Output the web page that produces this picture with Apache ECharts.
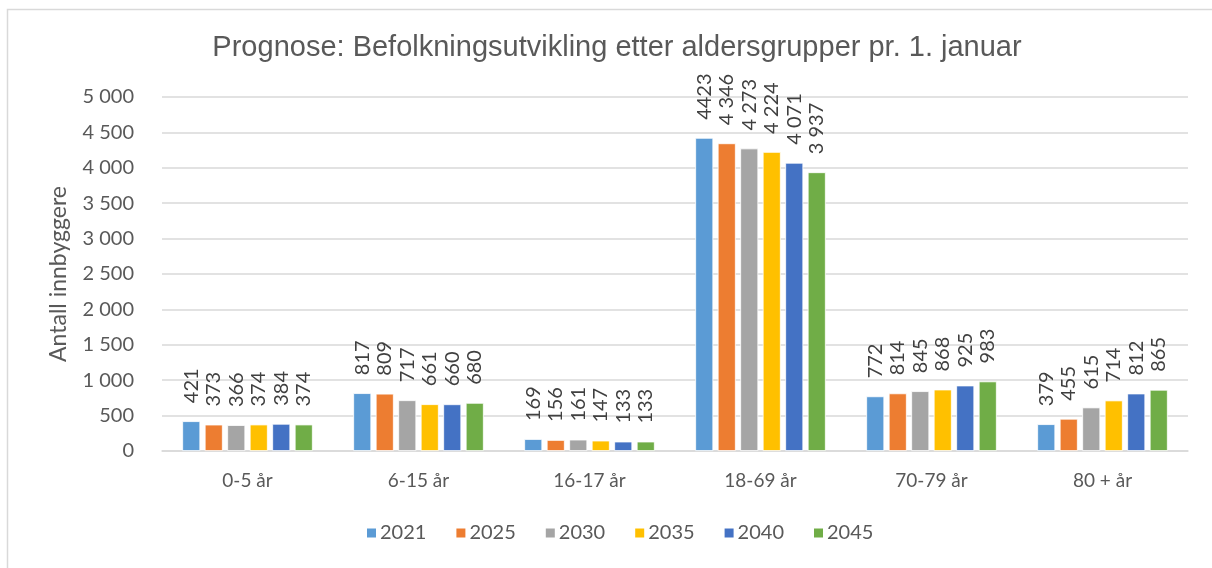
<!DOCTYPE html>
<html>
<head>
<meta charset="utf-8">
<script src="https://cdn.jsdelivr.net/npm/echarts@6/dist/echarts.min.js"></script>
<style>
html,body{margin:0;padding:0;background:#fff;}
#c{width:1212px;height:568px;}
</style>
</head>
<body>
<div id="c"></div>
<script>
const categories = ['0-5 år', '6-15 år', '16-17 år', '18-69 år', '70-79 år', '80 + år'];
const seriesNames = ['2021', '2025', '2030', '2035', '2040', '2045'];
const v2021 = [421, 817, 169, 4423, 772, 379];
const v2025 = [373, 809, 156, 4346, 814, 455];
const v2030 = [366, 717, 161, 4273, 845, 615];
const v2035 = [374, 661, 147, 4224, 868, 714];
const v2040 = [384, 660, 133, 4071, 925, 812];
const v2045 = [374, 680, 133, 3937, 983, 865];
const colors = ['#5B9BD5', '#ED7D31', '#A5A5A5', '#FFC000', '#4472C4', '#70AD47'];
const allValues = [v2021, v2025, v2030, v2035, v2040, v2045];

function fmt(n) {
  return String(n).replace(/\B(?=(\d{3})+(?!\d))/g, ' ');
}
const fontFam = 'Lato, "Open Sans", sans-serif';

const chart = echarts.init(document.getElementById('c'), null, {renderer: 'canvas'});
chart.setOption({
  backgroundColor: '#fff',
  animation: false,
  graphic: [{
    type: 'rect',
    shape: {x: 7.5, y: 9.5, width: 1220, height: 600},
    style: {fill: 'none', stroke: '#d9d9d9', lineWidth: 1.5},
    silent: true, z: -10
  }],
  title: {
    text: 'Prognose: Befolkningsutvikling etter aldersgrupper pr. 1. januar',
    left: 612, textAlign: 'center', top: 28,
    textStyle: {fontFamily: '"Liberation Sans", Arial, sans-serif', fontSize: 29, fontWeight: 'normal', color: '#595959'}
  },
  legend: {
    data: seriesNames,
    bottom: 20, left: 360,
    itemWidth: 11, itemHeight: 11, itemGap: 28,
    icon: 'rect',
    textStyle: {fontFamily: fontFam, fontSize: 20, color: '#595959', padding: [0, 0, 0, -2]}
  },
  grid: {left: 162, right: 24, top: 97, bottom: 117, containLabel: false},
  xAxis: {
    type: 'category',
    data: categories,
    axisLine: {lineStyle: {color: '#d9d9d9', width: 1.5}},
    axisTick: {show: false},
    axisLabel: {fontFamily: fontFam, fontSize: 19, color: '#595959', margin: 20}
  },
  yAxis: {
    type: 'value',
    min: 0, max: 5000, interval: 500,
    name: 'Antall innbyggere',
    nameLocation: 'middle',
    nameGap: 92,
    nameTextStyle: {fontFamily: fontFam, fontSize: 23, color: '#595959'},
    axisLine: {show: false},
    axisTick: {show: false},
    splitLine: {lineStyle: {color: '#d9d9d9', width: 1.5}},
    axisLabel: {fontFamily: fontFam, fontSize: 20, color: '#595959', margin: 28, formatter: v => fmt(v)}
  },
  series: seriesNames.map((name, i) => ({
    name: name,
    type: 'bar',
    data: allValues[i],
    barWidth: 18,
    barGap: '25%',
    itemStyle: {color: colors[i], borderColor: '#fff', borderWidth: 0.8},
    label: {
      show: true,
      position: 'top',
      rotate: 90,
      align: 'left',
      verticalAlign: 'middle',
      distance: 18,
      fontFamily: fontFam,
      fontSize: 20,
      color: '#404040',
      formatter: p => i === 0 ? String(p.value) : fmt(p.value)
    }
  }))
});
</script>
</body>
</html>
